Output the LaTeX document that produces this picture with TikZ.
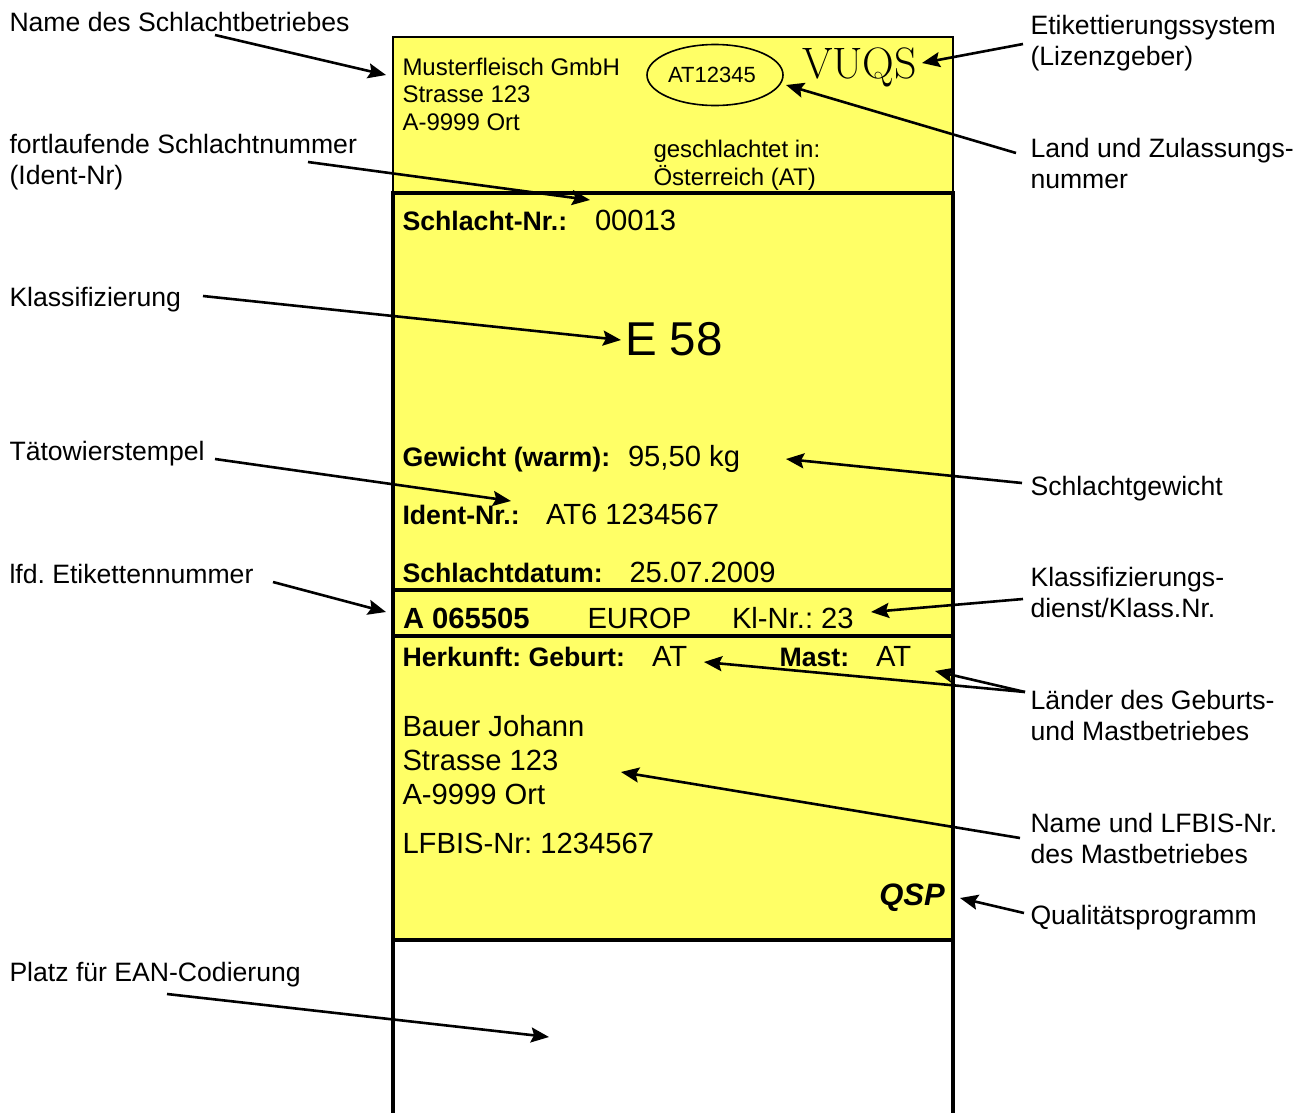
\documentclass[tikz,border=0pt]{standalone}
\usepackage{fontspec}
\setmainfont{Liberation Sans}
\newfontfamily\lmfont{Latin Modern Roman}
\usetikzlibrary{arrows.meta,shapes.geometric}
\definecolor{labelyellow}{HTML}{FFFF66}
\newcommand{\fs}[1]{\fontsize{#1}{#1}\selectfont}
\AtBeginDocument{\frenchspacing}
\tikzset{
  txt/.style={anchor=base west,inner sep=0pt,outer sep=0pt,align=left},
  captxt/.style={txt,font=\fontsize{26.6}{31}\selectfont},
  bigtxt/.style={txt,font=\fs{29.2}},
  boldtxt/.style={txt,font=\fs{26.7}\bfseries},
  smalltxt/.style={txt,font=\fontsize{24}{27.5}\selectfont},
  boxframe/.style={line width=3.6pt,line cap=rect},
  thinframe/.style={line width=2.4pt},
  callout/.style={line width=2.6pt,-{Stealth[length=18pt,width=15pt,inset=3pt]}}
}
\begin{document}
\begin{tikzpicture}[x=1pt,y=-1pt]
\useasboundingbox (0,0) rectangle (1304,1112);
% label body
\fill[labelyellow] (393,37) rectangle (953,940);
\draw[thinframe] (393,193) -- (393,37) -- (953,37) -- (953,193);
\draw[boxframe] (393,1116) -- (393,193) -- (953,193) -- (953,1116);
\draw[boxframe] (393,590) -- (953,590);
\draw[boxframe] (393,636) -- (953,636);
\draw[boxframe] (393,940) -- (953,940);
% header
\node[smalltxt] (firm) at (402.5,130) {Musterfleisch GmbH\\Strasse 123\\A-9999 Ort};
\node[draw,ellipse,line width=1.6pt,minimum width=136pt,minimum height=61pt,inner sep=0pt] (oval) at (715,75) {};
\node[anchor=base,inner sep=0pt,font=\fs{22}] (zul) at (712,82) {AT12345};
\node[txt,font=\fs{44}\lmfont] (vuqs) at (802,78) {VUQS};
\node[smalltxt] (ort) at (653.5,185) {geschlachtet in:\\Österreich (AT)};
% main
\node[boldtxt] (snl) at (402.5,230) {Schlacht-Nr.:};
\node[bigtxt] (snv) at (595,230) {00013};
\node[txt,font=\fs{47.5}] (klass) at (625,355) {E 58};
\node[boldtxt] (gwl) at (402.5,466) {Gewicht (warm):};
\node[bigtxt] (gwv) at (628,466) {95,50 kg};
\node[boldtxt] (idl) at (402.5,524) {Ident-Nr.:};
\node[bigtxt] (idv) at (546,524) {AT6 1234567};
\node[boldtxt] (dal) at (402.5,582) {Schlachtdatum:};
\node[bigtxt] (dav) at (629.5,582) {25.07.2009};
\node[txt,font=\fs{29.2}\bfseries] (etn) at (403,628) {A 065505};
\node[bigtxt] (eur) at (587.5,628) {EUROP};
\node[bigtxt] (kln) at (732,628) {Kl-Nr.: 23};
\node[boldtxt] (hkl) at (402.5,666) {Herkunft: Geburt:};
\node[bigtxt] (hkv) at (652,666) {AT};
\node[boldtxt] (mal) at (779.5,666) {Mast:};
\node[bigtxt] (mav) at (876,666) {AT};
\node[bigtxt] (b1) at (402.5,736) {Bauer Johann};
\node[bigtxt] (b2) at (402.5,770) {Strasse 123};
\node[bigtxt] (b3) at (402.5,804) {A-9999 Ort};
\node[bigtxt] (lfb) at (402.5,853) {LFBIS-Nr: 1234567};
\node[anchor=base east,inner sep=0pt,font=\fs{31}\bfseries\itshape] (qsp) at (945,905) {QSP};
% captions left
\node[captxt] (c1) at (9.5,31) {Name des Schlachtbetriebes};
\node[captxt] (c2) at (9.5,184) {fortlaufende Schlachtnummer\\(Ident-Nr)};
\node[captxt] (c3) at (9.5,306) {Klassifizierung};
\node[captxt] (c4) at (9.5,460) {Tätowierstempel};
\node[captxt] (c5) at (9.5,583) {lfd. Etikettennummer};
\node[captxt] (c6) at (9.5,981) {Platz für EAN-Codierung};
% captions right
\node[captxt] (r1) at (1030.5,65) {Etikettierungssystem\\(Lizenzgeber)};
\node[captxt] (r2) at (1030.5,188) {Land und Zulassungs-\\nummer};
\node[captxt] (r3) at (1030.5,495) {Schlachtgewicht};
\node[captxt] (r4) at (1030.5,617) {Klassifizierungs-\\dienst/Klass.Nr.};
\node[captxt] (r5) at (1030.5,740) {Länder des Geburts-\\und Mastbetriebes};
\node[captxt] (r6) at (1030.5,863) {Name und LFBIS-Nr.\\des Mastbetriebes};
\node[captxt] (r7) at (1030.5,924) {Qualitätsprogramm};
% connector ends
\coordinate (s1) at (215,35);   \coordinate (t1) at (386,75);
\coordinate (s2) at (1023,44);  \coordinate (t2) at (922,63);
\coordinate (s3) at (1016,153); \coordinate (t3) at (786,85);
\coordinate (s4) at (308,162);  \coordinate (t4) at (590,200);
\coordinate (s5) at (203,296);  \coordinate (t5) at (621,340);
\coordinate (s6) at (215,459);  \coordinate (t6) at (511,501);
\coordinate (s7) at (1022,483); \coordinate (t7) at (786,459);
\coordinate (s8) at (273,582);  \coordinate (t8) at (386,612);
\coordinate (s9) at (1023,599); \coordinate (t9) at (871,612);
\coordinate (s10) at (1025,692);\coordinate (t10) at (704,662);
\coordinate (t11) at (935,671);
\coordinate (s12) at (1020,838);\coordinate (t12) at (621,772);
\coordinate (s13) at (1024,913);\coordinate (t13) at (960,898);
\coordinate (s14) at (167,994); \coordinate (t14) at (549,1037);
\foreach \a/\b in {s1/t1,s2/t2,s3/t3,s4/t4,s5/t5,s6/t6,s7/t7,s8/t8,s9/t9,s10/t10,s10/t11,s12/t12,s13/t13,s14/t14}
  \draw[callout] (\a) -- (\b);
\end{tikzpicture}
\end{document}
